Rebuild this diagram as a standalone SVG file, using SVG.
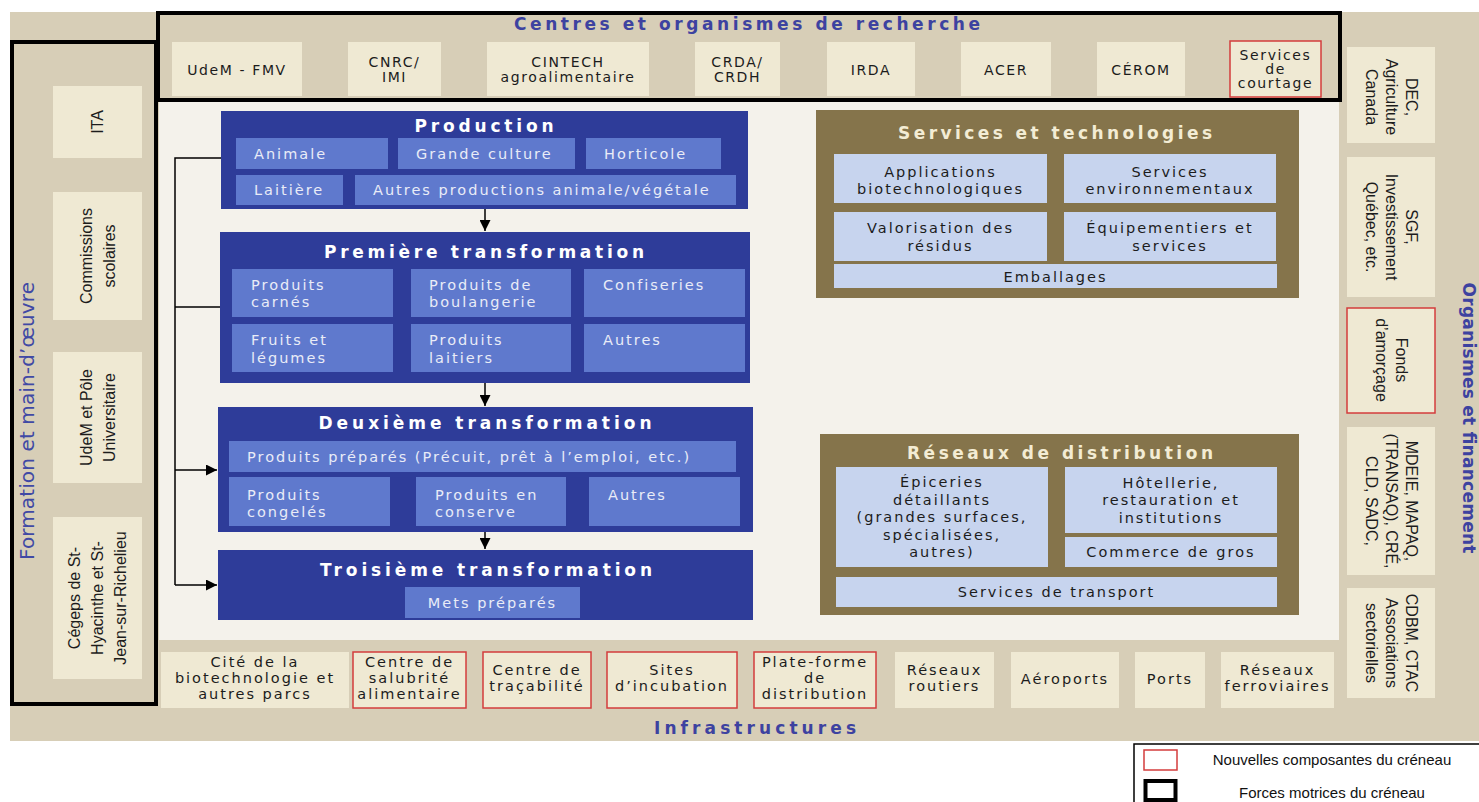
<svg xmlns="http://www.w3.org/2000/svg" width="1479" height="802" viewBox="0 0 1479 802">
<defs>
<style>
.tan{fill:#d7ceb7}
.inner{fill:#f4f2eb}
.frame{fill:none;stroke:#000;stroke-width:4}
.item{fill:#efe9d3}
.new{fill:#efe9d3;stroke:#d43c3c;stroke-width:1.5}
.blk{fill:#2e3c99}
.sub{fill:#5f79cd}
.brn{fill:#85744b}
.lb{fill:#c7d4ee}
.t{font-family:"DejaVu Sans",Verdana,sans-serif;font-size:14.5px;letter-spacing:2px;fill:#1c1c1c}
.ts{font-size:14px;letter-spacing:1.6px}
.tc{text-anchor:middle}
.tw{fill:#e9ecf7}
.hd{font-family:"DejaVu Sans",Verdana,sans-serif;font-size:17px;font-weight:bold;text-anchor:middle}
.hw{fill:#ffffff}
.hc{fill:#f3ecd4}
.lab{font-family:"DejaVu Sans",Verdana,sans-serif;font-weight:bold;font-size:17px;fill:#3d42a0;text-anchor:middle}
.side{font-family:"Liberation Sans",Arial,sans-serif;font-size:16px;fill:#1c1c1c;text-anchor:middle}
.conn{stroke:#000;stroke-width:1.5;fill:none}
.leg{font-family:"Liberation Sans",Arial,sans-serif;font-size:15px;fill:#111;text-anchor:middle}
</style>
<marker id="ah" viewBox="0 0 10 10" refX="10" refY="5" markerWidth="11" markerHeight="11" markerUnits="userSpaceOnUse" orient="auto">
<path d="M0,0 L10,5 L0,10 z" fill="#000"/>
</marker>
</defs>

<g id="background">
<rect class="tan" x="10" y="12" width="1469" height="729"/>
<rect class="inner" x="159" y="100" width="1180" height="540"/>
</g>

<!-- Top: Centres et organismes de recherche -->
<g id="recherche">
<rect class="frame" x="158" y="13" width="1182" height="87"/>
<text class="lab" x="747" y="30" textLength="466">Centres et organismes de recherche</text>
</g>
<g id="udem-fmv"><rect class="item" x="172" y="42" width="130" height="54"/><text class="t ts tc" x="237" y="74.5">UdeM - FMV</text></g>
<g id="cnrc"><rect class="item" x="348" y="42" width="93" height="54"/><text class="t ts tc"><tspan x="394.5" y="67">CNRC/</tspan><tspan x="394.5" y="82">IMI</tspan></text></g>
<g id="cintech"><rect class="item" x="487" y="42" width="162" height="54"/><text class="t ts tc"><tspan x="568" y="67">CINTECH</tspan><tspan x="568" y="82">agroalimentaire</tspan></text></g>
<g id="crda"><rect class="item" x="695" y="42" width="85" height="54"/><text class="t ts tc"><tspan x="737.5" y="67">CRDA/</tspan><tspan x="737.5" y="82">CRDH</tspan></text></g>
<g id="irda"><rect class="item" x="827" y="42" width="88" height="54"/><text class="t ts tc" x="871" y="74.5">IRDA</text></g>
<g id="acer"><rect class="item" x="961" y="42" width="90" height="54"/><text class="t ts tc" x="1006" y="74.5">ACER</text></g>
<g id="cerom"><rect class="item" x="1097" y="42" width="88" height="54"/><text class="t ts tc" x="1141" y="74.5">CÉROM</text></g>
<g id="courtage"><rect class="new" x="1230" y="41" width="91" height="56"/><text class="t ts tc"><tspan x="1275.5" y="60">Services</tspan><tspan x="1275.5" y="74">de</tspan><tspan x="1275.5" y="88">courtage</tspan></text></g>

<!-- Left: Formation et main-d'oeuvre -->
<g id="formation">
<rect class="frame" x="12" y="42" width="144" height="662"/>
<text style="font-family:'DejaVu Sans',Verdana,sans-serif;font-size:20px;fill:#4049a5;text-anchor:middle" transform="translate(34,421) rotate(-90)" x="0" y="0" textLength="278">Formation et main-d’œuvre</text>
</g>
<g id="ita"><rect class="item" x="53" y="86" width="89" height="72"/><text class="side" transform="translate(97.5,122) rotate(-90)"><tspan x="0" y="5.5">ITA</tspan></text></g>
<g id="commissions"><rect class="item" x="53" y="192" width="89" height="128"/><text class="side" transform="translate(97.5,256) rotate(-90)"><tspan x="0" y="-6">Commissions</tspan><tspan x="0" y="17">scolaires</tspan></text></g>
<g id="udem-pole"><rect class="item" x="53" y="352" width="89" height="131"/><text class="side" transform="translate(97.5,417.5) rotate(-90)"><tspan x="0" y="-6">UdeM et Pôle</tspan><tspan x="0" y="17">Universitaire</tspan></text></g>
<g id="cegeps"><rect class="item" x="53" y="517" width="89" height="162"/><text class="side" transform="translate(97.5,598) rotate(-90)"><tspan x="0" y="-17.5">Cégeps de St-</tspan><tspan x="0" y="5.5">Hyacinthe et St-</tspan><tspan x="0" y="28.5">Jean-sur-Richelieu</tspan></text></g>

<!-- Right: Organismes et financement -->
<g id="financement">
<text class="lab" transform="translate(1463,418) rotate(90)" x="0" y="0" textLength="271">Organismes et financement</text>
</g>
<g id="dec"><rect class="item" x="1347" y="47" width="88" height="96"/><text class="side" transform="translate(1391,97) rotate(90)"><tspan x="0" y="-14.5">DEC,</tspan><tspan x="0" y="5.5">Agriculture</tspan><tspan x="0" y="25.5">Canada</tspan></text></g>
<g id="sgf"><rect class="item" x="1347" y="157" width="88" height="140"/><text class="side" transform="translate(1391,227) rotate(90)"><tspan x="0" y="-14.5">SGF,</tspan><tspan x="0" y="5.5">Investissement</tspan><tspan x="0" y="25.5">Québec, etc.</tspan></text></g>
<g id="fonds"><rect class="new" x="1347" y="308" width="88" height="105"/><text class="side" transform="translate(1391,360) rotate(90)"><tspan x="0" y="-4.5">Fonds</tspan><tspan x="0" y="15.5">d’amorçage</tspan></text></g>
<g id="mdeie"><rect class="item" x="1347" y="427" width="88" height="148"/><text class="side" transform="translate(1391,501) rotate(90)"><tspan x="0" y="-14.5">MDEIE, MAPAQ,</tspan><tspan x="0" y="5.5">(TRANSAQ), CRÉ,</tspan><tspan x="0" y="25.5">CLD, SADC,</tspan></text></g>
<g id="cdbm"><rect class="item" x="1347" y="588" width="88" height="110"/><text class="side" transform="translate(1391,643) rotate(90)"><tspan x="0" y="-14.5">CDBM, CTAC</tspan><tspan x="0" y="5.5">Associations</tspan><tspan x="0" y="25.5">sectorielles</tspan></text></g>

<!-- Bottom: Infrastructures -->
<g id="infrastructures">
<text class="lab" x="755" y="734" textLength="202">Infrastructures</text>
</g>
<g id="cite"><rect class="item" x="161" y="652" width="188" height="56"/><text class="t tc"><tspan x="255" y="667">Cité de la</tspan><tspan x="255" y="683">biotechnologie et</tspan><tspan x="255" y="699">autres parcs</tspan></text></g>
<g id="salubrite"><rect class="new" x="353" y="652" width="113" height="56"/><text class="t tc"><tspan x="409.5" y="667">Centre de</tspan><tspan x="409.5" y="683">salubrité</tspan><tspan x="409.5" y="699">alimentaire</tspan></text></g>
<g id="tracabilite"><rect class="new" x="483" y="652" width="108" height="56"/><text class="t tc"><tspan x="537" y="675">Centre de</tspan><tspan x="537" y="691">traçabilité</tspan></text></g>
<g id="incubation"><rect class="new" x="607" y="652" width="130" height="56"/><text class="t tc"><tspan x="672" y="675">Sites</tspan><tspan x="672" y="691">d’incubation</tspan></text></g>
<g id="plateforme"><rect class="new" x="754" y="652" width="122" height="56"/><text class="t tc"><tspan x="815" y="667">Plate-forme</tspan><tspan x="815" y="683">de</tspan><tspan x="815" y="699">distribution</tspan></text></g>
<g id="routiers"><rect class="item" x="895" y="652" width="99" height="56"/><text class="t tc"><tspan x="944.5" y="675">Réseaux</tspan><tspan x="944.5" y="691">routiers</tspan></text></g>
<g id="aeroports"><rect class="item" x="1011" y="652" width="108" height="56"/><text class="t tc" x="1065" y="684">Aéroports</text></g>
<g id="ports"><rect class="item" x="1135" y="652" width="70" height="56"/><text class="t tc" x="1170" y="684">Ports</text></g>
<g id="ferroviaires"><rect class="item" x="1221" y="652" width="113" height="56"/><text class="t tc"><tspan x="1277.5" y="675">Réseaux</tspan><tspan x="1277.5" y="691">ferroviaires</tspan></text></g>

<!-- Value chain -->
<g id="production">
<rect class="blk" x="221" y="111" width="527" height="98"/>
<text class="hd hw" x="484" y="132" textLength="139">Production</text>
<rect class="sub" x="236" y="138" width="152" height="31"/><text class="t tw" x="254" y="159">Animale</text>
<rect class="sub" x="398" y="138" width="177" height="31"/><text class="t tw" x="416" y="159">Grande culture</text>
<rect class="sub" x="586" y="138" width="135" height="31"/><text class="t tw" x="604" y="159">Horticole</text>
<rect class="sub" x="236" y="175" width="107" height="30"/><text class="t tw" x="254" y="195">Laitière</text>
<rect class="sub" x="355" y="175" width="381" height="30"/><text class="t tw" x="373" y="195">Autres productions animale/végétale</text>
</g>

<g id="premiere">
<rect class="blk" x="220" y="232" width="530" height="151"/>
<text class="hd hw" x="484" y="258" textLength="320">Première transformation</text>
<rect class="sub" x="232" y="269" width="161" height="48"/><text class="t tw"><tspan x="251" y="290">Produits</tspan><tspan x="251" y="307">carnés</tspan></text>
<rect class="sub" x="411" y="269" width="160" height="48"/><text class="t tw"><tspan x="429" y="290">Produits de</tspan><tspan x="429" y="307">boulangerie</tspan></text>
<rect class="sub" x="584" y="269" width="161" height="48"/><text class="t tw" x="603" y="290">Confiseries</text>
<rect class="sub" x="232" y="324" width="161" height="48"/><text class="t tw"><tspan x="251" y="345">Fruits et</tspan><tspan x="251" y="363">légumes</tspan></text>
<rect class="sub" x="411" y="324" width="160" height="48"/><text class="t tw"><tspan x="429" y="345">Produits</tspan><tspan x="429" y="363">laitiers</tspan></text>
<rect class="sub" x="584" y="324" width="161" height="48"/><text class="t tw" x="603" y="345">Autres</text>
</g>

<g id="deuxieme">
<rect class="blk" x="218" y="407" width="535" height="125"/>
<text class="hd hw" x="485" y="429" textLength="333">Deuxième transformation</text>
<rect class="sub" x="229" y="441" width="507" height="31"/><text class="t tw" x="247" y="462">Produits préparés (Précuit, prêt à l’emploi, etc.)</text>
<rect class="sub" x="229" y="477" width="161" height="49"/><text class="t tw"><tspan x="247" y="500">Produits</tspan><tspan x="247" y="517">congelés</tspan></text>
<rect class="sub" x="416" y="477" width="150" height="49"/><text class="t tw"><tspan x="435" y="500">Produits en</tspan><tspan x="435" y="517">conserve</tspan></text>
<rect class="sub" x="589" y="477" width="151" height="49"/><text class="t tw" x="608" y="500">Autres</text>
</g>

<g id="troisieme">
<rect class="blk" x="218" y="550" width="535" height="70"/>
<text class="hd hw" x="486" y="576" textLength="332">Troisième transformation</text>
<rect class="sub" x="405" y="587" width="175" height="31"/><text class="t tw tc" x="492.5" y="608">Mets préparés</text>
</g>

<g id="services-technologies">
<rect class="brn" x="816" y="110" width="483" height="188"/>
<text class="hd hc" x="1055" y="139" textLength="314">Services et technologies</text>
<rect class="lb" x="834" y="154" width="213" height="49"/><text class="t tc"><tspan x="940.5" y="177">Applications</tspan><tspan x="940.5" y="194">biotechnologiques</tspan></text>
<rect class="lb" x="1064" y="154" width="212" height="49"/><text class="t tc"><tspan x="1170" y="177">Services</tspan><tspan x="1170" y="194">environnementaux</tspan></text>
<rect class="lb" x="834" y="212" width="213" height="49"/><text class="t tc"><tspan x="940.5" y="233">Valorisation des</tspan><tspan x="940.5" y="251">résidus</tspan></text>
<rect class="lb" x="1064" y="212" width="212" height="49"/><text class="t tc"><tspan x="1170" y="233">Équipementiers et</tspan><tspan x="1170" y="251">services</tspan></text>
<rect class="lb" x="834" y="264" width="443" height="24"/><text class="t tc" x="1055.5" y="282">Emballages</text>
</g>

<g id="reseaux-distribution">
<rect class="brn" x="820" y="434" width="479" height="181"/>
<text class="hd hc" x="1060" y="459" textLength="306">Réseaux de distribution</text>
<rect class="lb" x="836" y="467" width="212" height="100"/><text class="t tc"><tspan x="942" y="487">Épiceries</tspan><tspan x="942" y="504.5">détaillants</tspan><tspan x="942" y="522">(grandes surfaces,</tspan><tspan x="942" y="539.5">spécialisées,</tspan><tspan x="942" y="557">autres)</tspan></text>
<rect class="lb" x="1065" y="467" width="212" height="66"/><text class="t tc"><tspan x="1171" y="487.5">Hôtellerie,</tspan><tspan x="1171" y="505">restauration et</tspan><tspan x="1171" y="522.5">institutions</tspan></text>
<rect class="lb" x="1065" y="537" width="212" height="30"/><text class="t tc" x="1171" y="557">Commerce de gros</text>
<rect class="lb" x="836" y="577" width="441" height="30"/><text class="t tc" x="1056.5" y="597">Services de transport</text>
</g>

<g id="connectors">
<line class="conn" x1="485" y1="209" x2="485" y2="231" marker-end="url(#ah)"/>
<line class="conn" x1="485" y1="383" x2="485" y2="406" marker-end="url(#ah)"/>
<line class="conn" x1="485" y1="532" x2="485" y2="549" marker-end="url(#ah)"/>
<polyline class="conn" points="221,158 175,158 175,585"/>
<line class="conn" x1="175" y1="307" x2="220" y2="307"/>
<line class="conn" x1="175" y1="470" x2="217" y2="470" marker-end="url(#ah)"/>
<line class="conn" x1="175" y1="585" x2="217" y2="585" marker-end="url(#ah)"/>
</g>

<g id="legend">
<rect x="1134" y="744" width="400" height="100" fill="#fff" stroke="#000" stroke-width="1.5"/>
<rect x="1144" y="750" width="33" height="20" fill="#fff" stroke="#d43c3c" stroke-width="1.5"/>
<rect x="1145.5" y="781" width="30" height="19" fill="#fff" stroke="#000" stroke-width="4"/>
<text class="leg" x="1332" y="765">Nouvelles composantes du créneau</text>
<text class="leg" x="1332" y="798">Forces motrices du créneau</text>
</g>
</svg>
